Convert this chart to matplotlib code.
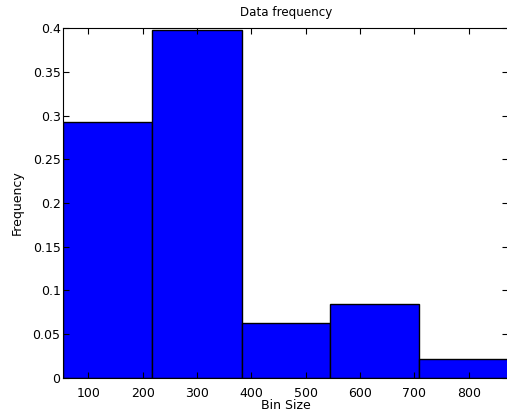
import matplotlib
matplotlib.use("Agg")
import matplotlib.pyplot as plt

plt.rcParams['font.family'] = ['DejaVu Sans']

bin_edges = [54, 218, 382, 545, 709, 873]
frequency = [0.293, 0.398, 0.063, 0.084, 0.021]
x_ticks = [100, 200, 300, 400, 500, 600, 700, 800]
y_ticks = [0, 0.05, 0.1, 0.15, 0.2, 0.25, 0.3, 0.35, 0.4]
y_tick_labels = ['0', '0.05', '0.1', '0.15', '0.2', '0.25', '0.3', '0.35', '0.4']

fig = plt.figure(figsize=(5.07, 4.17), dpi=100)
ax = fig.add_axes([63.3 / 507, 1 - 377.7 / 417, (508.3 - 63.3) / 507, (377.7 - 28.3) / 417])

widths = [bin_edges[i + 1] - bin_edges[i] for i in range(len(frequency))]
ax.bar(bin_edges[:-1], frequency, width=widths, align='edge',
       color='#0000FF', edgecolor='black', linewidth=1.0)

ax.set_xlim(bin_edges[0], bin_edges[-1])
ax.set_ylim(0, 0.4)
ax.set_xticks(x_ticks)
ax.set_xticklabels([str(t) for t in x_ticks])
ax.set_yticks(y_ticks)
ax.set_yticklabels(y_tick_labels)
ax.tick_params(direction='in', top=True, right=True, length=4, width=0.8,
               labelsize=9)
ax.tick_params(axis='x', pad=7)
ax.tick_params(axis='y', pad=2)
for s in ax.spines.values():
    s.set_linewidth(0.8)

ax.set_title('Data frequency', fontsize=8.6, pad=9)
ax.set_xlabel('Bin Size', fontsize=9, labelpad=-1)
ax.set_ylabel('Frequency', fontsize=9, labelpad=6)

fig.savefig('out.png', dpi=100)
